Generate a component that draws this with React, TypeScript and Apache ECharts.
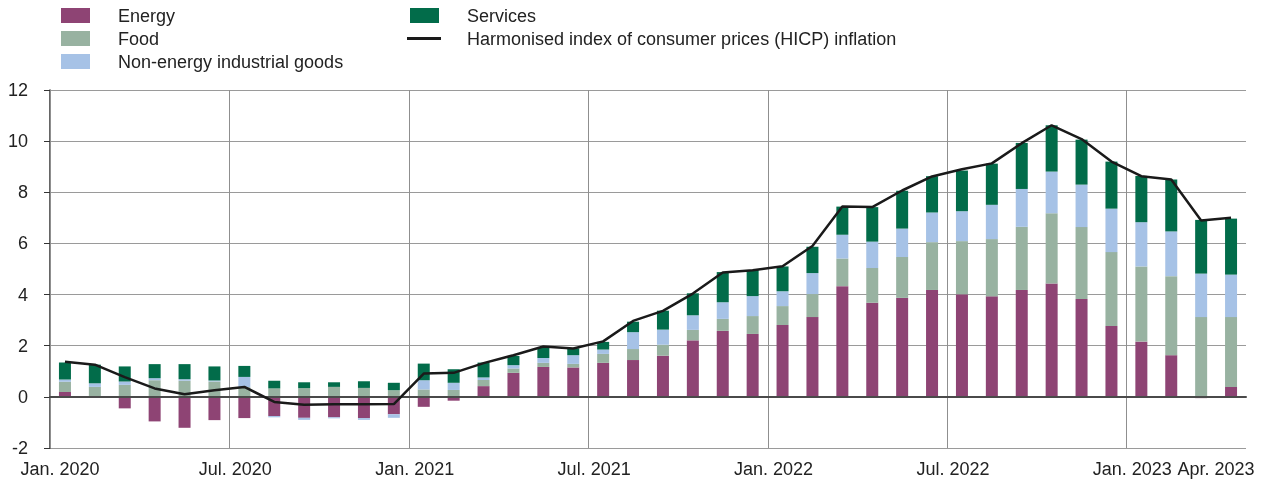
import React, { useEffect, useRef } from 'react';
import * as echarts from 'echarts';

const months = [
  '2020-01', '2020-02', '2020-03', '2020-04', '2020-05', '2020-06', '2020-07', '2020-08', '2020-09', '2020-10', '2020-11', '2020-12',
  '2021-01', '2021-02', '2021-03', '2021-04', '2021-05', '2021-06', '2021-07', '2021-08', '2021-09', '2021-10', '2021-11', '2021-12',
  '2022-01', '2022-02', '2022-03', '2022-04', '2022-05', '2022-06', '2022-07', '2022-08', '2022-09', '2022-10', '2022-11', '2022-12',
  '2023-01', '2023-02', '2023-03', '2023-04',
];

const tickMonths = ['2020-01', '2020-07', '2021-01', '2021-07', '2022-01', '2022-07', '2023-01'];
const labelMonths = ['2020-01', '2020-07', '2021-01', '2021-07', '2022-01', '2022-07', '2023-01', '2023-04'];
const labelTexts = ['Jan. 2020', 'Jul. 2020', 'Jan. 2021', 'Jul. 2021', 'Jan. 2022', 'Jul. 2022', 'Jan. 2023', 'Apr. 2023'];

const energy = [
  0.19, -0.02, -0.45, -0.96, -1.21, -0.91, -0.83, -0.75, -0.82, -0.8, -0.83, -0.68,
  -0.39, -0.15, 0.42, 0.94, 1.17, 1.15, 1.33, 1.44, 1.61, 2.21, 2.58, 2.46,
  2.81, 3.12, 4.33, 3.68, 3.87, 4.18, 4.01, 3.93, 4.18, 4.43, 3.83, 2.77,
  2.16, 1.63, -0.05, 0.39,
];
const food = [
  0.4, 0.39, 0.47, 0.65, 0.63, 0.6, 0.38, 0.33, 0.34, 0.39, 0.35, 0.26,
  0.29, 0.27, 0.24, 0.17, 0.16, 0.14, 0.35, 0.43, 0.43, 0.41, 0.47, 0.7,
  0.74, 0.9, 1.08, 1.36, 1.6, 1.87, 2.08, 2.24, 2.47, 2.75, 2.81, 2.89,
  2.94, 3.09, 3.12, 2.73,
];
const neig = [
  0.09, 0.14, 0.13, 0.08, 0.06, 0.04, 0.4, -0.05, -0.08, -0.04, -0.07, -0.14,
  0.36, 0.28, 0.1, 0.13, 0.19, 0.34, 0.17, 0.66, 0.59, 0.57, 0.65, 0.78,
  0.58, 0.82, 0.93, 1.03, 1.11, 1.16, 1.17, 1.34, 1.48, 1.63, 1.66, 1.7,
  1.73, 1.75, 1.7, 1.66,
];
const services = [
  0.66, 0.73, 0.59, 0.55, 0.59, 0.55, 0.43, 0.3, 0.23, 0.18, 0.26, 0.29,
  0.65, 0.53, 0.58, 0.36, 0.39, 0.27, 0.3, 0.41, 0.74, 0.86, 1.18, 1.02,
  0.97, 1.03, 1.1, 1.35, 1.48, 1.42, 1.59, 1.61, 1.8, 1.81, 1.76, 1.84,
  1.81, 2.03, 2.1, 2.19,
];
const hicp = [
  1.37, 1.26, 0.77, 0.33, 0.1, 0.26, 0.39, -0.2, -0.31, -0.29, -0.29, -0.28,
  0.91, 0.94, 1.32, 1.63, 1.97, 1.89, 2.17, 2.97, 3.36, 4.04, 4.86, 4.95,
  5.11, 5.9, 7.44, 7.42, 8.07, 8.62, 8.9, 9.13, 9.92, 10.62, 10.08, 9.2,
  8.63, 8.5, 6.9, 7.0,
];

const names = {
  energy: 'Energy',
  food: 'Food',
  neig: 'Non-energy industrial goods',
  services: 'Services',
  hicp: 'Harmonised index of consumer prices (HICP) inflation',
};

const colors = {
  energy: '#8e4474',
  food: '#98b2a1',
  neig: '#a6c2e6',
  services: '#026c4a',
  hicp: '#1a1a1a',
};

export default function App() {
  const ref = useRef<HTMLDivElement>(null);

  useEffect(() => {
    const chart = echarts.init(ref.current!, null, { renderer: 'svg' });
    const font = '"Liberation Sans", Arial, Helvetica, sans-serif';
    const isLabel = (i: number) => labelMonths.indexOf(months[i]) >= 0;

    const barSeries = (key: 'energy' | 'food' | 'neig' | 'services', data: number[]) => ({
      name: names[key],
      type: 'bar',
      stack: 'total',
      data,
      barWidth: 12,
      xAxisIndex: 0,
      yAxisIndex: 0,
      itemStyle: { color: colors[key] },
      emphasis: { disabled: true },
      z: 2,
    });

    const legendRect = (x: number, yc: number, color: string) => ({
      type: 'rect',
      shape: { x, y: yc - 7.5, width: 29, height: 15 },
      style: { fill: color },
      silent: true,
    });
    const legendLabel = (x: number, yc: number, text: string) => ({
      type: 'text',
      x,
      y: yc,
      style: {
        text,
        fontFamily: font,
        fontSize: 18,
        fill: '#222',
        verticalAlign: 'middle',
        align: 'left',
      },
      silent: true,
    });

    chart.setOption({
      animation: false,
      textStyle: { fontFamily: font },
      grid: { left: 50, right: 17, top: 90, bottom: 34, containLabel: false },
      graphic: [
        legendRect(61, 15.5, colors.energy),
        legendLabel(118, 15.5, names.energy),
        legendRect(61, 38.5, colors.food),
        legendLabel(118, 38.5, names.food),
        legendRect(61, 61.5, colors.neig),
        legendLabel(118, 61.5, names.neig),
        legendRect(410, 15.5, colors.services),
        legendLabel(467, 15.5, names.services),
        {
          type: 'line',
          shape: { x1: 407, y1: 38.5, x2: 441, y2: 38.5 },
          style: { stroke: colors.hicp, lineWidth: 3 },
          silent: true,
        },
        legendLabel(467, 38.5, names.hicp),
      ],
      xAxis: [
        {
          type: 'category',
          data: months,
          boundaryGap: true,
          axisLine: { show: true, onZero: true, lineStyle: { color: '#4a4a4a', width: 2 } },
          axisTick: { show: false },
          axisLabel: { show: false },
          splitLine: { show: false },
          z: 3,
        },
        {
          type: 'category',
          data: months,
          boundaryGap: true,
          position: 'bottom',
          axisLine: { show: false, onZero: false },
          axisTick: { show: false },
          splitLine: { show: false },
          axisLabel: {
            show: true,
            interval: (i: number) => isLabel(i),
            formatter: (v: string) => {
              const k = labelMonths.indexOf(v);
              if (k < 0) return '';
              if (k === 0) return '{l|' + labelTexts[k] + '}';
              if (k === labelMonths.length - 1) return '{r|' + labelTexts[k] + '}';
              return labelTexts[k];
            },
            rich: {
              l: { fontFamily: font, fontSize: 18, color: '#222', padding: [0, 0, 0, 8] },
              r: { fontFamily: font, fontSize: 18, color: '#222', padding: [0, 12, 0, 0] },
            },
            fontFamily: font,
            fontSize: 18,
            color: '#222',
            margin: 12,
            padding: [0, 18, 0, 0],
          },
        },
      ],
      yAxis: {
        type: 'value',
        min: -2,
        max: 12,
        interval: 2,
        axisLine: { show: true, lineStyle: { color: '#333', width: 1.5 } },
        axisTick: { show: true, length: 6, lineStyle: { color: '#333' } },
        axisLabel: { fontFamily: font, fontSize: 18, color: '#222', margin: 22 },
        splitLine: { show: true, lineStyle: { color: '#9a9a9a', width: 1 } },
      },
      series: [
        {
          type: 'custom',
          name: 'vgrid',
          xAxisIndex: 0,
          yAxisIndex: 0,
          silent: true,
          z: 1,
          encode: { x: 0, y: 1 },
          data: tickMonths.map((m) => [m, 0]),
          renderItem: (params: any, api: any) => {
            const p = api.coord([api.value(0), 0]);
            const w = api.size([1, 0])[0];
            const x = Math.round(p[0] - w / 2) + 0.5;
            const cs = params.coordSys;
            return {
              type: 'line',
              shape: { x1: x, y1: cs.y, x2: x, y2: cs.y + cs.height + 0 },
              style: { stroke: '#8f8f8f', lineWidth: 1 },
              silent: true,
            };
          },
        },
        barSeries('energy', energy),
        barSeries('food', food),
        barSeries('neig', neig),
        barSeries('services', services),
        {
          name: names.hicp,
          type: 'line',
          data: hicp,
          xAxisIndex: 0,
          yAxisIndex: 0,
          symbol: 'none',
          showSymbol: false,
          lineStyle: { color: colors.hicp, width: 2.5 },
          itemStyle: { color: colors.hicp },
          z: 5,
          emphasis: { disabled: true },
        },
      ],
    });

    return () => chart.dispose();
  }, []);

  return <div ref={ref} style={{ position: 'fixed', left: 0, top: 0, width: 1263, height: 482 }} />;
}
